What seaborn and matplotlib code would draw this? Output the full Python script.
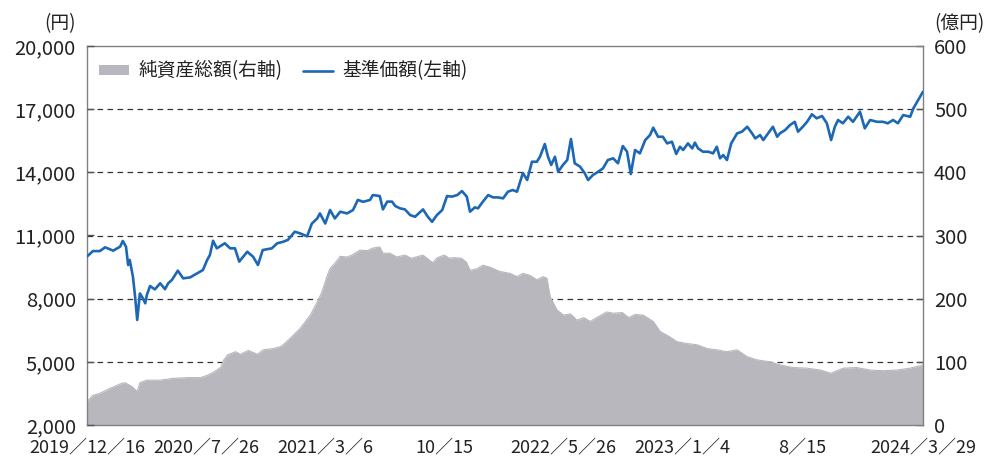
import matplotlib
matplotlib.use("Agg")
import matplotlib.pyplot as plt
from matplotlib.patches import Patch
from matplotlib.lines import Line2D
import seaborn as sns
import pandas as pd

# ---------------- data ----------------
nav_dates = [
    "2019-12-16", "2019-12-27", "2020-01-09", "2020-01-19", "2020-02-03", "2020-02-16", "2020-02-21",
    "2020-02-27", "2020-03-02", "2020-03-05", "2020-03-11", "2020-03-15", "2020-03-19", "2020-03-24",
    "2020-03-30", "2020-04-03", "2020-04-06", "2020-04-12", "2020-04-21", "2020-05-01", "2020-05-10",
    "2020-05-16", "2020-05-23", "2020-06-03", "2020-06-13", "2020-06-26", "2020-07-09", "2020-07-20",
    "2020-07-28", "2020-08-02", "2020-08-08", "2020-08-15", "2020-08-30", "2020-09-09", "2020-09-18",
    "2020-09-26", "2020-10-11", "2020-10-22", "2020-10-31", "2020-11-09", "2020-11-26", "2020-12-06",
    "2020-12-17", "2020-12-26", "2021-01-08", "2021-01-18", "2021-01-31", "2021-02-09", "2021-02-19",
    "2021-02-24", "2021-03-06", "2021-03-15", "2021-03-24", "2021-04-03", "2021-04-16", "2021-04-27",
    "2021-05-06", "2021-05-16", "2021-05-29", "2021-06-03", "2021-06-16", "2021-06-22", "2021-06-30",
    "2021-07-09", "2021-07-15", "2021-07-24", "2021-08-02", "2021-08-12", "2021-08-21", "2021-09-05",
    "2021-09-14", "2021-09-22", "2021-10-01", "2021-10-11", "2021-10-20", "2021-10-29", "2021-11-08",
    "2021-11-17", "2021-11-26", "2021-12-02", "2021-12-11", "2021-12-17", "2021-12-26", "2022-01-05",
    "2022-01-14", "2022-01-23", "2022-02-02", "2022-02-11", "2022-02-20", "2022-02-28", "2022-03-11",
    "2022-03-19", "2022-03-28", "2022-04-06", "2022-04-12", "2022-04-21", "2022-04-27", "2022-05-03",
    "2022-05-10", "2022-05-16", "2022-05-25", "2022-06-02", "2022-06-09", "2022-06-16", "2022-06-26",
    "2022-07-05", "2022-07-11", "2022-07-20", "2022-07-30", "2022-08-08", "2022-08-17", "2022-08-27",
    "2022-09-05", "2022-09-14", "2022-09-22", "2022-09-29", "2022-10-07", "2022-10-16", "2022-10-26",
    "2022-11-04", "2022-11-10", "2022-11-19", "2022-11-28", "2022-12-06", "2022-12-15", "2022-12-23",
    "2022-12-30", "2023-01-05", "2023-01-14", "2023-01-22", "2023-01-27", "2023-02-02", "2023-02-11",
    "2023-02-21", "2023-03-02", "2023-03-09", "2023-03-15", "2023-03-21", "2023-03-28", "2023-04-05",
    "2023-04-16", "2023-04-25", "2023-05-05", "2023-05-14", "2023-05-20", "2023-05-29", "2023-06-04",
    "2023-06-13", "2023-06-22", "2023-06-30", "2023-07-05", "2023-07-15", "2023-07-24", "2023-08-02",
    "2023-08-08", "2023-08-17", "2023-08-25", "2023-09-03", "2023-09-12", "2023-09-22", "2023-10-01",
    "2023-10-09", "2023-10-16", "2023-10-22", "2023-10-31", "2023-11-10", "2023-11-19", "2023-12-02",
    "2023-12-11", "2023-12-21", "2024-01-03", "2024-01-14", "2024-01-23", "2024-02-02", "2024-02-11",
    "2024-02-21", "2024-03-05", "2024-03-11", "2024-03-20", "2024-03-29",
]
nav_values = [
    10000, 10260, 10260, 10440, 10280, 10470, 10740,
    10470, 9600, 9840, 9040, 8100, 6990, 8250,
    8000, 7780, 8170, 8600, 8440, 8730, 8450,
    8730, 8890, 9330, 8965, 9010, 9200, 9360,
    9840, 10070, 10750, 10390, 10630, 10390, 10390,
    9760, 10230, 9990, 9600, 10310, 10390, 10630,
    10700, 10790, 11180, 11100, 10960, 11570, 11810,
    12050, 11570, 12210, 11810, 12130, 12050, 12210,
    12690, 12600, 12690, 12920, 12875, 12240, 12610,
    12610, 12400, 12290, 12240, 11970, 11890, 12240,
    11890, 11650, 11970, 12210, 12875, 12845, 12920,
    13110, 12845, 12130, 12335, 12290, 12605, 12920,
    12810, 12810, 12765, 13080, 13160, 13080, 13970,
    13635, 14505, 14500, 14740, 15345, 14740, 14350,
    14740, 14030, 14350, 14585, 15580, 14430, 14270,
    13950, 13635, 13870, 14030, 14190, 14585, 14665,
    14430, 15250, 14980, 13920, 15060, 14900, 15533,
    15770, 16120, 15690, 15690, 15375, 15455, 14870,
    15215, 15060, 15375, 15135, 15410, 15135, 14980,
    14980, 14900, 15215, 14665, 14820, 14585, 15375,
    15850, 15930, 16165, 15850, 15610, 15770, 15533,
    15850, 16165, 15690, 15850, 16010, 16245, 16400,
    15930, 16165, 16400, 16755, 16565, 16675, 16330,
    15533, 16165, 16485, 16330, 16640, 16400, 16880,
    16090, 16485, 16400, 16400, 16330, 16485, 16330,
    16720, 16640, 17040, 17435, 17830,
]

aum_dates = [
    "2019-12-16", "2019-12-27", "2020-01-09", "2020-01-28", "2020-02-16", "2020-02-25", "2020-03-09",
    "2020-03-19", "2020-03-24", "2020-04-06", "2020-05-01", "2020-05-26", "2020-06-21", "2020-07-16",
    "2020-07-29", "2020-08-10", "2020-08-23", "2020-08-28", "2020-09-04", "2020-09-19", "2020-09-28",
    "2020-10-13", "2020-10-30", "2020-11-10", "2020-11-29", "2020-12-12", "2020-12-17", "2020-12-30",
    "2021-01-18", "2021-02-06", "2021-02-19", "2021-02-28", "2021-03-09", "2021-03-15", "2021-03-24",
    "2021-04-03", "2021-04-16", "2021-04-25", "2021-05-10", "2021-05-23", "2021-06-03", "2021-06-16",
    "2021-06-22", "2021-07-05", "2021-07-18", "2021-08-02", "2021-08-14", "2021-08-23", "2021-09-05",
    "2021-09-23", "2021-10-02", "2021-10-15", "2021-10-24", "2021-11-02", "2021-11-16", "2021-11-25",
    "2021-12-02", "2021-12-14", "2021-12-26", "2022-01-08", "2022-01-27", "2022-02-15", "2022-02-28",
    "2022-03-11", "2022-03-24", "2022-04-06", "2022-04-18", "2022-04-25", "2022-05-01", "2022-05-14",
    "2022-05-26", "2022-06-08", "2022-06-20", "2022-07-03", "2022-07-15", "2022-07-27", "2022-08-15",
    "2022-08-27", "2022-09-13", "2022-09-25", "2022-10-07", "2022-10-22", "2022-11-10", "2022-11-23",
    "2022-12-12", "2022-12-24", "2023-01-12", "2023-01-31", "2023-02-19", "2023-03-09", "2023-03-28",
    "2023-04-16", "2023-05-05", "2023-05-24", "2023-06-17", "2023-07-06", "2023-07-30", "2023-08-25",
    "2023-09-19", "2023-10-08", "2023-11-01", "2023-11-26", "2023-12-21", "2024-01-14", "2024-02-09",
    "2024-03-05", "2024-03-29",
]
aum_values = [
    37, 47, 50, 58, 65, 67, 61,
    53, 67, 71, 71, 74, 75, 75,
    79, 84, 92, 103, 111, 116, 112,
    118, 112, 119, 121, 124, 127, 137,
    153, 174, 195, 211, 235, 248, 256,
    267, 266, 269, 277, 276, 280, 282,
    272, 272, 266, 269, 264, 266, 269,
    257, 265, 269, 264, 265, 264, 258,
    245, 247, 253, 250, 243, 240, 235,
    240, 237, 230, 235, 232, 203, 182,
    174, 176, 166, 170, 164, 170, 179,
    177, 178, 170, 175, 174, 164, 148,
    139, 132, 129, 127, 121, 119, 116,
    119, 108, 103, 100, 95, 91, 90,
    87, 82, 90, 91, 87, 86, 87,
    90, 95,
]

xtick_dates = ["2019-12-16", "2020-07-26", "2021-03-06", "2021-10-15",
               "2022-05-26", "2023-01-04", "2023-08-15", "2024-03-29"]
xtick_labels = ["2019／12／16", "2020／7／26", "2021／3／6", "10／15",
                "2022／5／26", "2023／1／4", "8／15", "2024／3／29"]
left_ticks = [2000, 5000, 8000, 11000, 14000, 17000, 20000]
right_ticks = [0, 100, 200, 300, 400, 500, 600]
legend_labels = ["純資産総額(右軸)", "基準価額(左軸)"]

# ---------------- style ----------------
BLUE = "#1c68b4"
GRAY = "#b8b7bd"
TEXT = "#222222"
SPINE = "#808080"

sns.set_theme(style="white")
plt.rcParams["font.family"] = ["Noto Sans CJK JP", "DejaVu Sans"]

nav_df = pd.DataFrame({"date": pd.to_datetime(nav_dates), "value": nav_values})
aum_df = pd.DataFrame({"date": pd.to_datetime(aum_dates), "value": aum_values})

fig = plt.figure(figsize=(9.87, 4.58), dpi=100)
ax = fig.add_axes([87 / 987, 1 - 425 / 458, 836 / 987, 379 / 458])
ax_line = ax.twinx()

# gridlines (behind the area)
for v in right_ticks[1:-1]:
    ax.axhline(v, color="#333333", lw=0.9, ls=(0, (4.5, 3.5)), zorder=0.5)

# area (net assets, right axis)
ax.fill_between(aum_df["date"], aum_df["value"], 0, color=GRAY, lw=0, zorder=2)
sns.lineplot(data=aum_df, x="date", y="value", ax=ax, color=GRAY, lw=0.8, zorder=2)
ax.set_ylim(0, 600)
ax.set_yticks(right_ticks)
ax.set_yticklabels([str(v) for v in right_ticks])
ax.yaxis.tick_right()
ax.yaxis.set_label_position("right")

# line (NAV, left axis)
sns.lineplot(data=nav_df, x="date", y="value", ax=ax_line, color=BLUE, lw=1.9, zorder=3)
ax_line.set_ylim(2000, 20000)
ax_line.set_yticks(left_ticks)
ax_line.set_yticklabels([f"{v:,}" for v in left_ticks])
ax_line.yaxis.tick_left()
ax_line.yaxis.set_label_position("left")

ax.set_xlim(pd.Timestamp(xtick_dates[0]), pd.Timestamp(xtick_dates[-1]))
ax.set_xticks(pd.to_datetime(xtick_dates))
ax.set_xticklabels(xtick_labels)

for a in (ax, ax_line):
    a.set_xlabel("")
    a.set_ylabel("")

for s in ax.spines.values():
    s.set_visible(True)
    s.set_color(SPINE)
    s.set_linewidth(1.0)
for s in ax_line.spines.values():
    s.set_visible(False)

ax.tick_params(axis="x", direction="in", length=7, width=1, color="#555555",
               labelsize=13, pad=10, labelcolor=TEXT)
ax.tick_params(axis="y", direction="in", length=5, width=1, color="#555555",
               labelsize=14.5, pad=8, labelcolor=TEXT)
ax_line.tick_params(axis="y", direction="in", length=5, width=1, color="#555555",
                    labelsize=14.5, pad=8, labelcolor=TEXT)

# unit labels
fig.text(76 / 987, 1 - 24 / 458, "(円)", ha="right", va="center", fontsize=13.5, color=TEXT)
fig.text(934 / 987, 1 - 24 / 458, "(億円)", ha="left", va="center", fontsize=13.5, color=TEXT)

# legend
handles = [Patch(facecolor=GRAY, edgecolor="none"), Line2D([0], [0], color=BLUE, lw=1.9)]
ax_line.legend(handles, legend_labels, loc="upper left", bbox_to_anchor=(0.014, 0.962),
               ncol=2, frameon=False, fontsize=13.5, handlelength=1.6, handleheight=0.45,
               handletextpad=0.5, columnspacing=1.1, borderpad=0, borderaxespad=0,
               labelcolor=TEXT)

fig.savefig("out.png", dpi=100)
